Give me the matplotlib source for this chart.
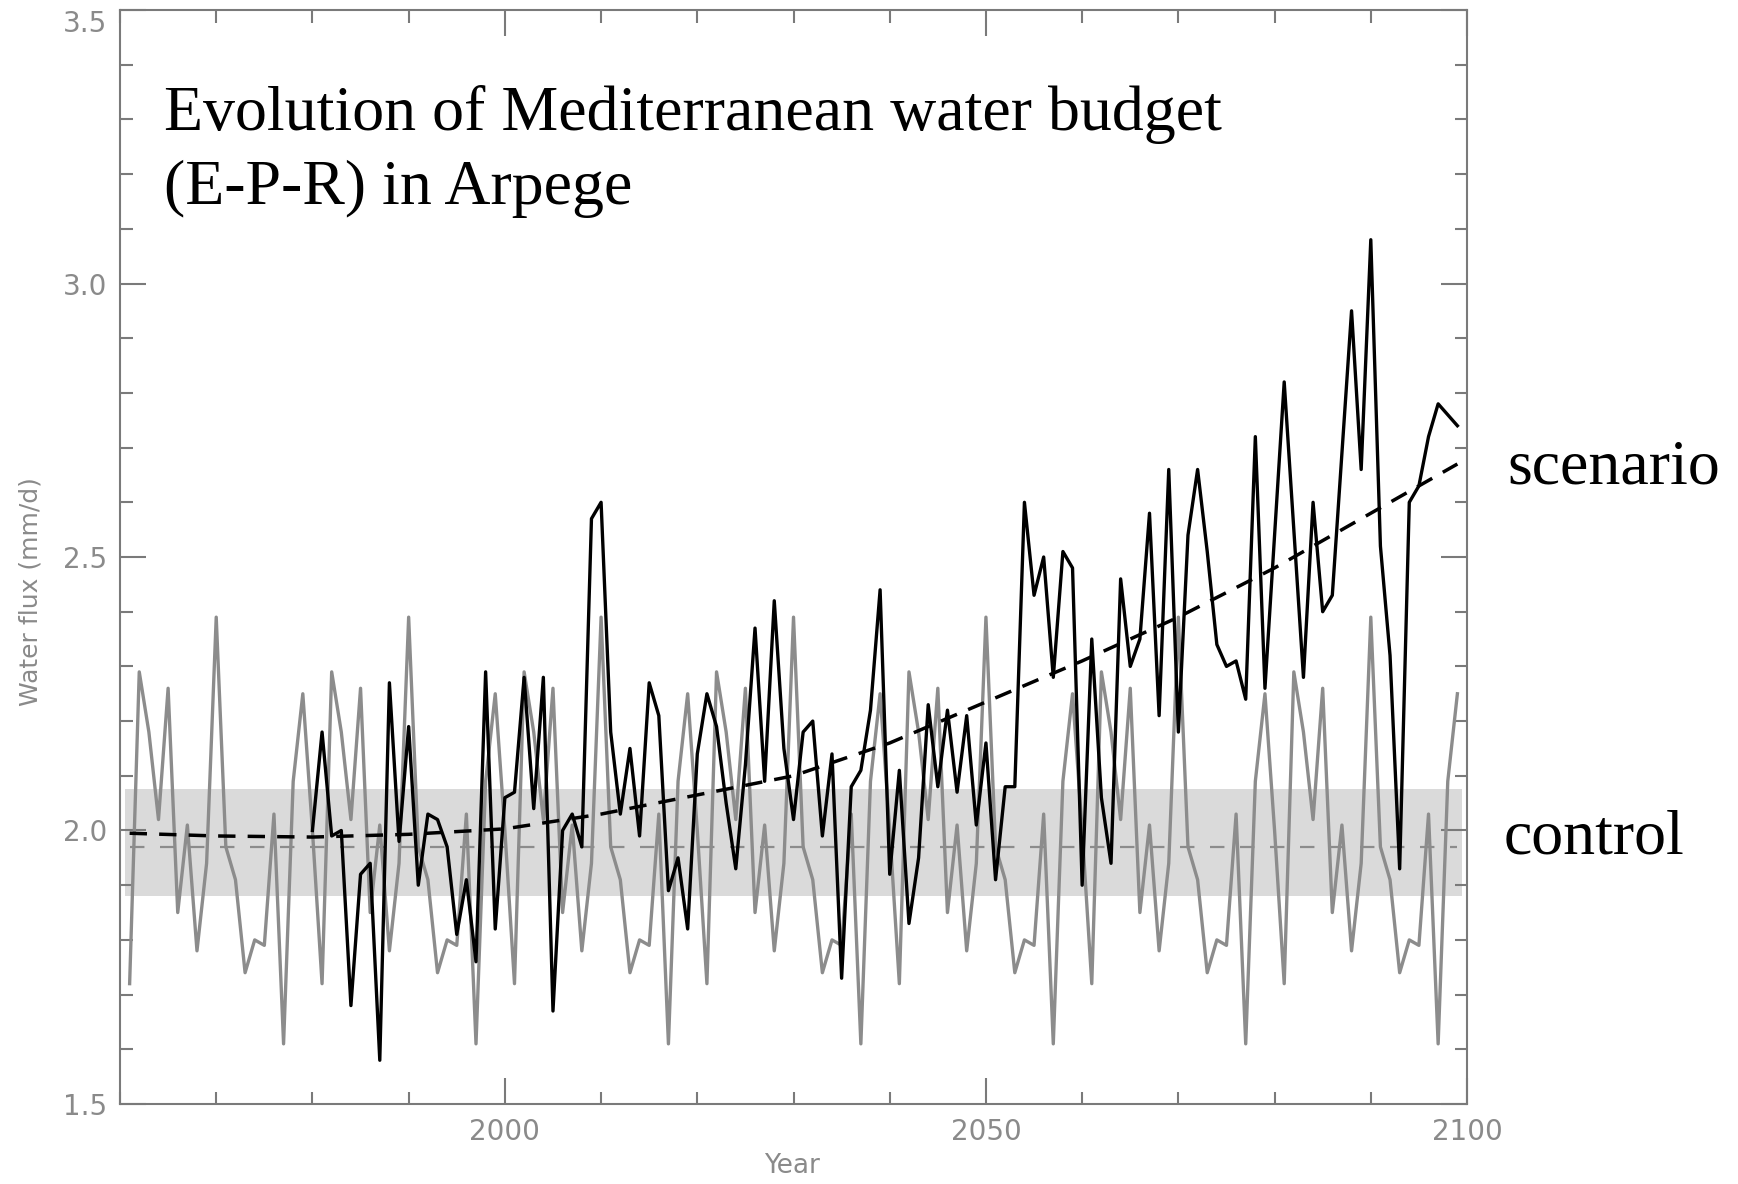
import numpy as np
import matplotlib
matplotlib.use("Agg")
import matplotlib.pyplot as plt
from matplotlib.ticker import MultipleLocator, FixedLocator

# Scenario run (E-P-R, mm/d), 1980-2099
scenario_years = list(range(1980, 2100))
scenario = [
    2.00, 2.18, 1.99, 2.00, 1.68, 1.92, 1.94, 1.58, 2.27, 1.98,
    2.19, 1.90, 2.03, 2.02, 1.97, 1.81, 1.91, 1.76, 2.29, 1.82,
    2.06, 2.07, 2.28, 2.04, 2.28, 1.67, 2.00, 2.03, 1.97, 2.57,
    2.60, 2.18, 2.03, 2.15, 1.99, 2.27, 2.21, 1.89, 1.95, 1.82,
    2.14, 2.25, 2.19, 2.05, 1.93, 2.12, 2.37, 2.09, 2.42, 2.15,
    2.02, 2.18, 2.20, 1.99, 2.14, 1.73, 2.08, 2.11, 2.22, 2.44,
    1.92, 2.11, 1.83, 1.95, 2.23, 2.08, 2.22, 2.07, 2.21, 2.01,
    2.16, 1.91, 2.08, 2.08, 2.60, 2.43, 2.50, 2.28, 2.51, 2.48,
    1.90, 2.35, 2.06, 1.94, 2.46, 2.30, 2.35, 2.58, 2.21, 2.66,
    2.18, 2.54, 2.66, 2.51, 2.34, 2.30, 2.31, 2.24, 2.72, 2.26,
    2.54, 2.82, 2.55, 2.28, 2.60, 2.40, 2.43, 2.69, 2.95, 2.66,
    3.08, 2.52, 2.32, 1.93, 2.60, 2.63, 2.72, 2.78, 2.76, 2.74,
]

# Control run, 1961-2099
control_years = list(range(1961, 2100))
control = [
    1.72, 2.29, 2.18, 2.02, 2.26, 1.85, 2.01, 1.78, 1.94, 2.39,
    1.97, 1.91, 1.74, 1.80, 1.79, 2.03, 1.61, 2.09, 2.25, 2.00,
    1.72, 2.29, 2.18, 2.02, 2.26, 1.85, 2.01, 1.78, 1.94, 2.39,
    1.97, 1.91, 1.74, 1.80, 1.79, 2.03, 1.61, 2.09, 2.25, 2.00,
    1.72, 2.29, 2.18, 2.02, 2.26, 1.85, 2.01, 1.78, 1.94, 2.39,
    1.97, 1.91, 1.74, 1.80, 1.79, 2.03, 1.61, 2.09, 2.25, 2.00,
    1.72, 2.29, 2.18, 2.02, 2.26, 1.85, 2.01, 1.78, 1.94, 2.39,
    1.97, 1.91, 1.74, 1.80, 1.79, 2.03, 1.61, 2.09, 2.25, 2.00,
    1.72, 2.29, 2.18, 2.02, 2.26, 1.85, 2.01, 1.78, 1.94, 2.39,
    1.97, 1.91, 1.74, 1.80, 1.79, 2.03, 1.61, 2.09, 2.25, 2.00,
    1.72, 2.29, 2.18, 2.02, 2.26, 1.85, 2.01, 1.78, 1.94, 2.39,
    1.97, 1.91, 1.74, 1.80, 1.79, 2.03, 1.61, 2.09, 2.25, 2.00,
    1.72, 2.29, 2.18, 2.02, 2.26, 1.85, 2.01, 1.78, 1.94, 2.39,
    1.97, 1.91, 1.74, 1.80, 1.79, 2.03, 1.61, 2.09, 2.25,
]

# Scenario trend curve
trend_years = [1961, 1970, 1980, 1990, 2000, 2010, 2020, 2030, 2040, 2050,
               2060, 2070, 2080, 2090, 2099]
trend = [1.995, 1.990, 1.988, 1.993, 2.003, 2.030, 2.065, 2.100, 2.160, 2.235,
         2.310, 2.390, 2.480, 2.580, 2.670]

# Control mean and spread
control_mean = 1.97
control_low = 1.88
control_high = 2.075

GREY = "#8c8c8c"
AXIS_GREY = "#7a7a7a"
LABEL_GREY = "#8a8a8a"

fig = plt.figure(figsize=(17.38, 11.84), dpi=100)
ax = fig.add_axes([0.06905, 0.06757, 0.77503, 0.92398])

# shaded band, one cell per year
band_years = np.array(control_years)
ax.bar(band_years, [control_high - control_low] * len(band_years), width=1.0,
       bottom=control_low, color="#dadada", linewidth=0, zorder=1)

ax.plot(control_years, control, color=GREY, lw=2.4, zorder=2)
ax.plot([control_years[0], control_years[-1]], [control_mean, control_mean],
        color=GREY, lw=1.6, dashes=(6.5, 7), zorder=3)
ax.plot(scenario_years, scenario, color="black", lw=2.4, zorder=4)
ax.plot(trend_years, trend, color="black", lw=2.5, dashes=(5, 3.5), zorder=5)

ax.set_xlim(1960, 2100)
ax.set_ylim(1.5, 3.5)

ax.xaxis.set_major_locator(FixedLocator([2000, 2050, 2100]))
ax.xaxis.set_minor_locator(MultipleLocator(10))
ax.yaxis.set_major_locator(MultipleLocator(0.5))
ax.yaxis.set_minor_locator(MultipleLocator(0.1))
ax.yaxis.set_major_formatter(plt.FuncFormatter(lambda v, p: f"{v:.1f}"))

for s in ax.spines.values():
    s.set_color(AXIS_GREY)
    s.set_linewidth(1.5)

ax.tick_params(which="both", direction="in", top=True, right=True,
               color=AXIS_GREY, width=1.5, labelcolor=LABEL_GREY, labelsize=20)
ax.tick_params(which="major", length=19)
ax.tick_params(which="minor", length=9)
ax.tick_params(axis="x", pad=10)
ax.tick_params(axis="y", pad=9)

for lab in ax.get_yticklabels():
    if lab.get_text() == "3.5":
        lab.set_verticalalignment("top")

fig.text(792 / 1738, 1 - 1166 / 1184, "Year", fontsize=19,
         color=LABEL_GREY, ha="center", va="center")
fig.text(31 / 1738, 1 - 592 / 1184, "Water flux (mm/d)", rotation=90,
         fontsize=18, color=LABEL_GREY, ha="center", va="center")

serif = ["Liberation Serif", "DejaVu Serif"]
fig.text(164 / 1738, 1 - 130 / 1184, "Evolution of Mediterranean water budget",
         family=serif, fontsize=46, va="baseline", ha="left")
fig.text(164 / 1738, 1 - 204 / 1184, "(E-P-R) in Arpege",
         family=serif, fontsize=46, va="baseline", ha="left")
fig.text(1507 / 1738, 1 - 484 / 1184, "scenario", family=serif, fontsize=46,
         va="baseline", ha="left")
fig.text(1504 / 1738, 1 - 853 / 1184, "control", family=serif, fontsize=46,
         va="baseline", ha="left")

fig.savefig("out.png", dpi=100)
